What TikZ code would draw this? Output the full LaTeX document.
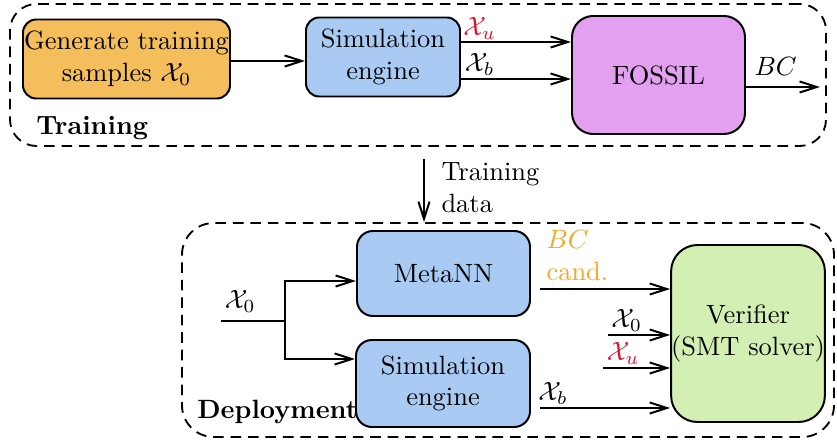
\documentclass[tikz,border=0pt]{standalone}
\usetikzlibrary{arrows.meta,calc}
\definecolor{cOrange}{HTML}{F5BE5C}
\definecolor{cBlue}{HTML}{A9CBF3}
\definecolor{cViolet}{HTML}{E3A0F0}
\definecolor{cGreen}{HTML}{D4EFB4}
\definecolor{cRed}{HTML}{E0142E}
\definecolor{cOrText}{HTML}{F5A623}
\begin{document}
\begin{tikzpicture}[x=0.378pt,y=-0.378pt,
  box/.style={draw, line width=0.75pt, align=center, inner sep=0pt, rounded corners=5pt},
  frame/.style={draw, line width=0.7pt, dash pattern=on 4pt off 2.6pt, inner sep=0pt},
  arr/.style={line width=0.75pt, -{Straight Barb[length=6.5pt,width=4.2pt]}},
  ln/.style={line width=0.75pt}]
\useasboundingbox (0,0) rectangle (837,443);
% frames
\node[frame, rounded corners=10pt, minimum width={816*0.378pt}, minimum height={142*0.378pt}] (train) at (418,75) {};
\node[frame, rounded corners=12pt, minimum width={652*0.378pt}, minimum height={214*0.378pt}] (deploy) at (508,330) {};
\node[anchor=west, font=\bfseries] (tlab) at (27,128) {Training};
\node[anchor=west, font=\bfseries] (dlab) at (188,412) {Deployment};
% training nodes
\node[box, fill=cOrange, minimum width={207*0.378pt}, minimum height={79*0.378pt}] (gen) at (126.5,59) {Generate training\\samples $\mathcal{X}_0$};
\node[box, fill=cBlue, minimum width={154*0.378pt}, minimum height={79*0.378pt}] (sim1) at (383,57) {Simulation\\engine};
\node[box, fill=cViolet, rounded corners=8pt, minimum width={173*0.378pt}, minimum height={118*0.378pt}] (fossil) at (658.5,75) {FOSSIL};
\coordinate (bcout) at (820,87);
\draw[arr] (gen.east |- 0,61) -- (sim1.west |- 0,61);
\draw[arr] (sim1.east |- 0,42) -- (fossil.west |- 0,42) node[pos=0.17, above, text=cRed, inner sep=0.5pt] {$\mathcal{X}_u$};
\draw[arr] (sim1.east |- 0,79) -- (fossil.west |- 0,79) node[pos=0.17, above, inner sep=1pt] {$\mathcal{X}_b$};
\draw[arr] (fossil.east |- bcout) -- (bcout) node[pos=0.4, above, inner sep=4pt] {$BC$};
% training data
\coordinate (tdtop) at (424,159);
\draw[arr] (tdtop) -- (tdtop |- deploy.north);
\node[anchor=west, align=left, inner sep=0pt] (tdlab) at (441,188) {Training\\data};
% deployment nodes
\node[box, fill=cBlue, rounded corners=6pt, minimum width={173*0.378pt}, minimum height={85*0.378pt}] (meta) at (443.5,273.5) {MetaNN};
\node[box, fill=cBlue, rounded corners=6pt, minimum width={174*0.378pt}, minimum height={87*0.378pt}] (sim2) at (443,383.5) {Simulation\\engine};
\node[box, fill=cGreen, rounded corners=10pt, minimum width={150*0.378pt}, minimum height={177*0.378pt}] (ver) at (748,333.5) {Verifier\\(SMT solver)};
\coordinate (x0in) at (221,321);
\coordinate (split) at (285,321);
\draw[ln] (x0in) -- (split) node[pos=0.3, above, inner sep=3pt] {$\mathcal{X}_0$};
\draw[arr] (split) |- (meta.west |- 0,281);
\draw[arr] (split) |- (sim2.west |- 0,359);
\coordinate (bcs) at (540,289);
\coordinate (x0s) at (608,335);
\coordinate (xus) at (603,368);
\coordinate (xbs) at (540,408);
\draw[arr] (bcs) -- (ver.west |- bcs);
\node[anchor=south west, align=left, text=cOrText, inner sep=0pt] (bclab) at (546,281) {$BC$\\cand.};
\draw[arr] (x0s) -- (ver.west |- x0s) node[pos=0.3, above, inner sep=1pt] {$\mathcal{X}_0$};
\draw[arr] (xus) -- (ver.west |- xus) node[pos=0.3, above, text=cRed, inner sep=1pt] {$\mathcal{X}_u$};
\draw[arr] (xbs) -- (ver.west |- xbs) node[pos=0.1, above, inner sep=1pt] {$\mathcal{X}_b$};
\end{tikzpicture}
\end{document}
